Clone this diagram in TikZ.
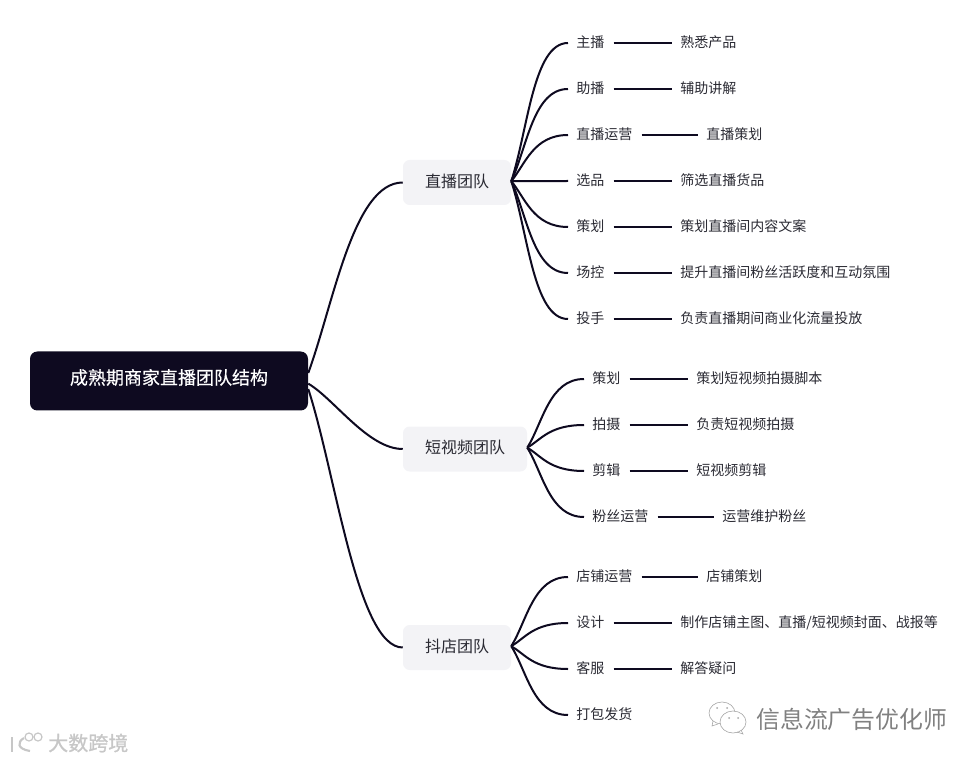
\documentclass[tikz,border=0pt]{standalone}
\usepackage{fontspec}
\setmainfont{Noto Sans CJK SC}
\definecolor{inkdark}{HTML}{0E0A20}
\definecolor{branchfill}{HTML}{F3F3F6}
\definecolor{leaftext}{HTML}{2A2A33}
\tikzset{
  rootbox/.style={fill=inkdark,text=white,rounded corners=5.5pt,minimum width=208.5pt,minimum height=44.25pt,text height=10pt,text depth=5pt,font=\fontsize{13.5pt}{16pt}\selectfont\addfontfeature{FakeBold=0.4},inner sep=0pt},
  teambox/.style={fill=branchfill,text=leaftext,rounded corners=5pt,minimum height=33.75pt,inner xsep=16.5pt,inner ysep=0pt,text height=10pt,text depth=2.9pt,font=\fontsize{12pt}{14pt}\selectfont},
  leaf/.style={anchor=west,text=leaftext,inner xsep=6pt,inner ysep=2pt,text height=9pt,text depth=2.5pt,font=\fontsize{10.5pt}{13pt}\selectfont},
  link/.style={color=inkdark,line width=1.5pt},
  bar/.style={link,shorten <=0.75pt},
  fan/.style 2 args={out=#1,in=180,out distance=#2,in distance=26pt},
  wmark/.style={inner sep=0pt,anchor=west}
}
\begin{document}
\begin{tikzpicture}[x=0.75pt,y=-0.75pt]
\useasboundingbox (0,0) rectangle (977,762);

\node[rootbox] (root) at (169,381) {成熟期商家直播团队结构};
\node[teambox] (live) at (457,182.5) {直播团队};
\node[teambox] (video) at (465,449) {短视频团队};
\node[teambox] (shop) at (457,647.5) {抖店团队};
\coordinate (livefan) at ([yshift=1pt]live.east);
\coordinate (videofan) at ([yshift=1pt]video.east);
\coordinate (shopfan) at ([yshift=1pt]shop.east);

\draw[link] ([yshift=6pt]root.east) to[out=70,in=180,out distance=56pt,in distance=37pt] (live.west);
\draw[link] ([yshift=-2pt]root.east) to[out=-30,in=180,out distance=22pt,in distance=26pt] (video.west);
\draw[link] ([yshift=-6pt]root.east) to[out=-72,in=180,out distance=67pt,in distance=34pt] (shop.west);

\node[leaf] (host) at (568,43) {主播};
\node[leaf] (hostb) at (680-8,43) {熟悉产品};
\node[leaf] (assist) at (568,89) {助播};
\node[leaf] (assistb) at (680-8,89) {辅助讲解};
\node[leaf] (liveop) at (568,135) {直播运营};
\node[leaf] (liveopb) at (706-8,135) {直播策划};
\node[leaf] (pick) at (568,181) {选品};
\node[leaf] (pickb) at (680-8,181) {筛选直播货品};
\node[leaf] (plan) at (568,227) {策划};
\node[leaf] (planb) at (680-8,227) {策划直播间内容文案};
\node[leaf] (field) at (568,273) {场控};
\node[leaf] (fieldb) at (680-8,273) {提升直播间粉丝活跃度和互动氛围};
\node[leaf] (ads) at (568,319) {投手};
\node[leaf] (adsb) at (680-8,319) {负责直播期间商业化流量投放};

\draw[link] (livefan) to[fan={72}{41pt}] (host.west);
\draw[link] (livefan) to[fan={65}{28pt}] (assist.west);
\draw[link] (livefan) to[fan={50}{16pt}] (liveop.west);
\draw[link] (livefan) -- (pick.west);
\draw[link] (livefan) to[fan={-50}{16pt}] (plan.west);
\draw[link] (livefan) to[fan={-65}{28pt}] (field.west);
\draw[link] (livefan) to[fan={-72}{41pt}] (ads.west);
\draw[bar] (host.east) -- (hostb.west);
\draw[bar] (assist.east) -- (assistb.west);
\draw[bar] (liveop.east) -- (liveopb.west);
\draw[bar] (pick.east) -- (pickb.west);
\draw[bar] (plan.east) -- (planb.west);
\draw[bar] (field.east) -- (fieldb.west);
\draw[bar] (ads.east) -- (adsb.west);

\node[leaf] (script) at (584,379) {策划};
\node[leaf] (scriptb) at (696-8,379) {策划短视频拍摄脚本};
\node[leaf] (shoot) at (584,425) {拍摄};
\node[leaf] (shootb) at (696-8,425) {负责短视频拍摄};
\node[leaf] (cut) at (584,471) {剪辑};
\node[leaf] (cutb) at (696-8,471) {短视频剪辑};
\node[leaf] (fans) at (584,517) {粉丝运营};
\node[leaf] (fansb) at (722-8,517) {运营维护粉丝};

\draw[link] (videofan) to[fan={58}{22pt}] (script.west);
\draw[link] (videofan) to[fan={30}{12pt}] (shoot.west);
\draw[link] (videofan) to[fan={-30}{12pt}] (cut.west);
\draw[link] (videofan) to[fan={-58}{22pt}] (fans.west);
\draw[bar] (script.east) -- (scriptb.west);
\draw[bar] (shoot.east) -- (shootb.west);
\draw[bar] (cut.east) -- (cutb.west);
\draw[bar] (fans.east) -- (fansb.west);

\node[leaf] (shopop) at (568,577) {店铺运营};
\node[leaf] (shopopb) at (706-8,577) {店铺策划};
\node[leaf] (design) at (568,623) {设计};
\node[leaf] (designb) at (680-8,623) {制作店铺主图、直播/短视频封面、战报等};
\node[leaf] (service) at (568,669) {客服};
\node[leaf] (serviceb) at (680-8,669) {解答疑问};
\node[leaf] (ship) at (568,715) {打包发货};

\draw[link] (shopfan) to[fan={58}{22pt}] (shopop.west);
\draw[link] (shopfan) to[fan={30}{12pt}] (design.west);
\draw[link] (shopfan) to[fan={-30}{12pt}] (service.west);
\draw[link] (shopfan) to[fan={-58}{22pt}] (ship.west);
\draw[bar] (shopop.east) -- (shopopb.west);
\draw[bar] (design.east) -- (designb.west);
\draw[bar] (service.east) -- (serviceb.west);

\node[wmark,text=black!22,font=\fontsize{15pt}{17pt}\selectfont\addfontfeature{FakeBold=1}] (brand) at (48,743) {大数跨境};
\draw[black!22,line width=1.6pt] (12,737) -- (12,752);
\draw[black!22,line width=1.6pt] (24,738) .. controls (17,742) and (17,749) .. (30,751);
\draw[black!22,line width=0.9pt] (29,737) circle (4);
\draw[black!22,line width=0.9pt] (38,737) circle (4);

\node[wmark,text=black!50,font=\fontsize{17.9pt}{20pt}\selectfont] (author) at (756,719) {信息流广告优化师};
\draw[black!35,line width=0.45pt,fill=white] (722,713) ellipse (13 and 11);
\draw[black!35,line width=0.45pt] (713,721) -- (712,726) -- (718,724);
\draw[black!35,line width=0.45pt,fill=white] (733,722) ellipse (13 and 11);
\draw[black!35,line width=0.45pt] (741,730) -- (743,734) -- (737,732);
\fill[black!35] (717,708) circle (1);
\fill[black!35] (727,708) circle (1);
\fill[black!35] (729,718) circle (1);
\fill[black!35] (738,718) circle (1);
\end{tikzpicture}
\end{document}
